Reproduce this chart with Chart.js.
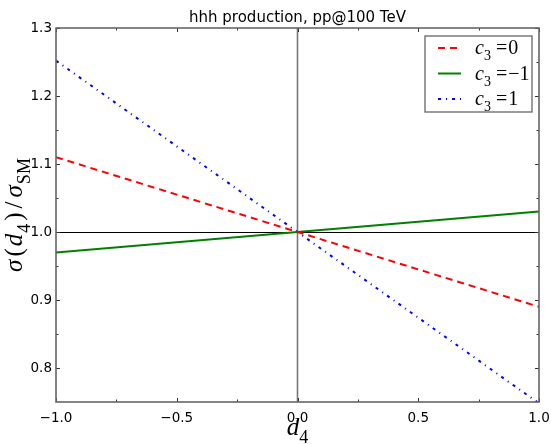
<!DOCTYPE html>
<html>
<head>
<meta charset="utf-8">
<script src="https://cdn.jsdelivr.net/npm/chart.js@4/dist/chart.umd.min.js"></script>
<style>
  html, body { margin: 0; padding: 0; background: #fff; }
  #wrap { width: 551px; height: 444px; }
</style>
</head>
<body>
<div id="wrap"><canvas id="xsec_chart" width="551" height="444"></canvas></div>
<script>
// d4 grid and cross-section ratios for each c3 value
var d4_values = [-1.0, -0.5, 0.0, 0.5, 1.0];
var ratio_c3_0 = [1.110, 1.055, 1.000, 0.945, 0.890];
var ratio_c3_m1 = [0.970, 0.985, 1.000, 1.015, 1.030];
var ratio_c3_1 = [1.252, 1.126, 1.000, 0.874, 0.748];

var series_names = ['0', '\u22121', '1'];
var x_major = [-1.0, -0.5, 0.0, 0.5, 1.0];
var x_minor = [-0.75, -0.25, 0.25, 0.75];
var y_major = [0.8, 0.9, 1.0, 1.1, 1.2, 1.3];
var y_minor = [0.85, 0.95, 1.05, 1.15, 1.25];

var TICK_FONT = { family: 'DejaVu Sans', size: 13.5 };
var MATH_FONT = 'Liberation Serif';
var TITLE = 'hhh production, pp@100 TeV';

function points(ys) {
	var pts = [];
	for (var i = 0; i < d4_values.length; i++) {
		pts.push({ x: d4_values[i], y: ys[i] });
	}
	return pts;
}

function fmt(v) {
	return v.toFixed(1).replace('-', '\u2212');
}

function math_font(kind, size) {
	if (kind === 'sub') return Math.round(size * 0.7) + 'px "' + MATH_FONT + '"';
	return (kind ? kind + ' ' : '') + size + 'px "' + MATH_FONT + '"';
}

// draws a run of [kind, text, gapAfter] pieces, subscripts dropped below baseline
function draw_math(ctx, parts, x, y, size, centered) {
	ctx.textBaseline = 'alphabetic';
	ctx.textAlign = 'left';
	if (centered) {
		var total = 0;
		parts.forEach(function(p) {
			ctx.font = math_font(p[0], size);
			total += ctx.measureText(p[1]).width + p[2];
		});
		x -= total / 2;
	}
	parts.forEach(function(p) {
		ctx.font = math_font(p[0], size);
		ctx.fillText(p[1], x, p[0] === 'sub' ? y + size * 0.3 : y);
		x += ctx.measureText(p[1]).width + p[2];
	});
	return x;
}

// frame, inward ticks on all sides, reference lines at d4=0 and ratio=1
var framePlugin = {
	id: 'frame',
	beforeDatasetsDraw: function(chart) {
		var ctx = chart.ctx, a = chart.chartArea;
		var xs = chart.scales.x, ys = chart.scales.y;
		ctx.save();
		ctx.strokeStyle = '#000';
		ctx.lineWidth = 1;
		var y1 = Math.round(ys.getPixelForValue(1.0)) + 0.5;
		ctx.beginPath(); ctx.moveTo(a.left, y1); ctx.lineTo(a.right, y1); ctx.stroke();
		ctx.strokeStyle = '#777';
		ctx.lineWidth = 1.6;
		var x0 = xs.getPixelForValue(0);
		ctx.beginPath(); ctx.moveTo(x0, a.top); ctx.lineTo(x0, a.bottom); ctx.stroke();
		ctx.restore();
	},
	afterDatasetsDraw: function(chart) {
		var ctx = chart.ctx, a = chart.chartArea;
		var xs = chart.scales.x, ys = chart.scales.y;
		ctx.save();
		ctx.strokeStyle = '#333';
		ctx.lineWidth = 1;
		function tickX(list, len) {
			list.forEach(function(v) {
				var px = Math.round(xs.getPixelForValue(v)) + 0.5;
				ctx.beginPath();
				ctx.moveTo(px, a.bottom); ctx.lineTo(px, a.bottom - len);
				ctx.moveTo(px, a.top); ctx.lineTo(px, a.top + len);
				ctx.stroke();
			});
		}
		function tickY(list, len) {
			list.forEach(function(v) {
				var py = Math.round(ys.getPixelForValue(v)) + 0.5;
				ctx.beginPath();
				ctx.moveTo(a.left, py); ctx.lineTo(a.left + len, py);
				ctx.moveTo(a.right, py); ctx.lineTo(a.right - len, py);
				ctx.stroke();
			});
		}
		tickX(x_major, 4); tickX(x_minor, 2.5);
		tickY(y_major, 4); tickY(y_minor, 2.5);
		ctx.strokeStyle = '#666';
		ctx.lineWidth = 1.6;
		ctx.strokeRect(a.left, a.top, a.right - a.left, a.bottom - a.top);
		ctx.restore();
	},
	afterDraw: function(chart) {
		var ctx = chart.ctx, a = chart.chartArea;
		var cx = (a.left + a.right) / 2;
		ctx.save();
		ctx.fillStyle = '#000';

		// title, centred over the plot area
		ctx.font = '15px "DejaVu Sans"';
		ctx.textAlign = 'center';
		ctx.textBaseline = 'alphabetic';
		ctx.fillText(TITLE, cx, 22);

		// x axis title: d_4
		draw_math(ctx, [['italic', 'd', 0], ['sub', '4', 0]], cx, 435, 25, true);

		// y axis title: sigma(d_4)/sigma_SM
		ctx.translate(22, (a.top + a.bottom) / 2);
		ctx.rotate(-Math.PI / 2);
		draw_math(ctx, [
			['italic', '\u03c3', 3], ['', '(', 2], ['italic', 'd', 1],
			['sub', '4', 3], ['', ')', 4], ['', '/', 4],
			['italic', '\u03c3', 1], ['sub', 'SM', 0]
		], 0, 0, 25, true);
		ctx.restore();
	}
};

// matplotlib-style boxed legend in the upper right of the plot area
var legendPlugin = {
	id: 'boxLegend',
	afterDraw: function(chart) {
		var ctx = chart.ctx, a = chart.chartArea;
		var bw = 107, bh = 76;
		var bx = a.right - 7 - bw, by = a.top + 8;
		ctx.save();
		ctx.fillStyle = '#fff';
		ctx.fillRect(bx, by, bw, bh);
		ctx.strokeStyle = '#666';
		ctx.lineWidth = 1.3;
		ctx.strokeRect(bx, by, bw, bh);
		chart.data.datasets.forEach(function(ds, i) {
			var ry = by + 12 + i * 25.5;
			ctx.strokeStyle = ds.borderColor;
			ctx.lineWidth = ds.borderWidth;
			ctx.setLineDash(ds.borderDash || []);
			ctx.beginPath();
			ctx.moveTo(bx + 13, ry); ctx.lineTo(bx + 36, ry);
			ctx.stroke();
			ctx.setLineDash([]);
			ctx.fillStyle = '#000';
			draw_math(ctx, [['italic', 'c', 0], ['sub', '3', 5], ['', '=', 1], ['', series_names[i], 0]],
				bx + 50, ry + 6, 20, false);
		});
		ctx.restore();
	}
};

function draw_figure() {
	var ctx = document.getElementById('xsec_chart').getContext('2d');

	var datasets = [];
	datasets.push({ label: 'c3=0', data: points(ratio_c3_0), borderColor: '#ff0000', borderWidth: 2, borderDash: [7, 5] });
	datasets.push({ label: 'c3=-1', data: points(ratio_c3_m1), borderColor: '#008000', borderWidth: 2 });
	datasets.push({ label: 'c3=1', data: points(ratio_c3_1), borderColor: '#0000ff', borderWidth: 2, borderDash: [3, 5, 1, 5] });
	datasets.forEach(function(d) {
		d.pointRadius = 0;
		d.tension = 0;
		d.fill = false;
	});

	var opts = {
		responsive: false,
		animation: false,
		layout: { padding: { left: 0, right: 12, top: 28, bottom: 0 } },
		plugins: {
			legend: { display: false },
			tooltip: { enabled: false },
			title: { display: false }
		},
		scales: {
			x: {
				type: 'linear',
				min: -1, max: 1,
				grid: { display: false, drawTicks: false, tickLength: 0 },
				border: { display: false },
				afterBuildTicks: function(s) { s.ticks = x_major.map(function(v) { return { value: v }; }); },
				afterFit: function(s) { s.height = 42; s.paddingLeft = 0; s.paddingRight = 0; },
				ticks: { color: '#000', font: TICK_FONT, padding: 8, maxRotation: 0, callback: function(v) { return fmt(v); } }
			},
			y: {
				type: 'linear',
				min: 0.75, max: 1.3,
				grid: { display: false, drawTicks: false, tickLength: 0 },
				border: { display: false },
				afterBuildTicks: function(s) { s.ticks = y_major.map(function(v) { return { value: v }; }); },
				afterFit: function(s) { s.width = 56; s.paddingTop = 0; s.paddingBottom = 0; },
				ticks: { color: '#000', font: TICK_FONT, padding: 4, callback: function(v) { return fmt(v); } }
			}
		}
	};

	var params = {};
	params.type = 'line';
	params.data = { datasets: datasets };
	params.options = opts;
	params.plugins = [framePlugin, legendPlugin];
	return new Chart(ctx, params);
}

draw_figure();
</script>
</body>
</html>
